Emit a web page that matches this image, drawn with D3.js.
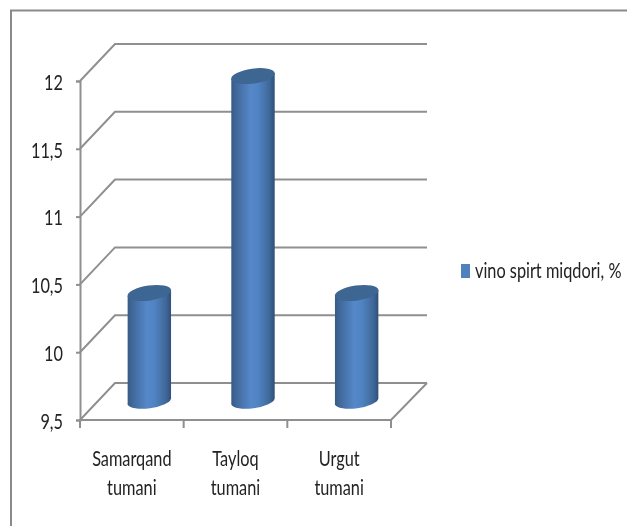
<!DOCTYPE html>
<html><head><meta charset="utf-8">
<script src="https://cdn.jsdelivr.net/npm/d3@7"></script>
<style>html,body{margin:0;padding:0;background:#fff}svg{display:block}
text{font-family:Lato,"Liberation Sans",sans-serif;fill:#222}</style>
</head><body><svg id="c" width="627" height="526"></svg>
<script>
const categories = [["Samarqand","tumani"],["Tayloq","tumani"],["Urgut","tumani"]];
const values = [10.3, 11.9, 10.3];
const seriesName = "vino spirt miqdori, %";
const yTicks = [9.5, 10, 10.5, 11, 11.5, 12];

const W = 627, H = 526;
const svg = d3.select("#c");
const x = d3.scaleBand().domain(d3.range(categories.length)).range([80, 391]);
const y = d3.scaleLinear().domain([9.5, 12]).range([420, 81]);
const depth = {dx: 35, dy: -37};
const grid = "#8f8f8f";
const fontSize = 20.5, squeeze = 0.795;

const defs = svg.append("defs");
const g = defs.append("linearGradient").attr("id","cyl");
[[0,"#375b84"],[.12,"#41699c"],[.45,"#5588c9"],[.62,"#5083c2"],[.88,"#3f6899"],[1,"#2f5077"]]
  .forEach(([o,c]) => g.append("stop").attr("offset",o).attr("stop-color",c));
defs.append("filter").attr("id","soft").attr("x","-5%").attr("y","-5%").attr("width","110%").attr("height","110%")
  .append("feGaussianBlur").attr("stdDeviation",0.5);

function condense(sel){
  sel.attr("font-size",fontSize).each(function(){
    const n = this.getComputedTextLength();
    d3.select(this).attr("textLength",n*squeeze).attr("lengthAdjust","spacingAndGlyphs");
  });
}

// outer frame
svg.append("path").attr("d",`M11,${H}V10.5H${W}`).attr("fill","none").attr("stroke","#8a8a8a").attr("stroke-width",2).attr("filter","url(#soft)");

const root = svg.append("g").attr("filter","url(#soft)");
// walls
const wall = root.append("g").attr("fill","none").attr("stroke",grid).attr("stroke-width",2);
yTicks.forEach(t => {
  wall.append("path").attr("d", d3.line()([
    [x.range()[0], y(t)],
    [x.range()[0]+depth.dx, y(t)+depth.dy],
    [x.range()[1]+depth.dx+1, y(t)+depth.dy]
  ]));
});
wall.append("path").attr("d", d3.line()([
  [x.range()[0], y(9.5)], [x.range()[1], y(9.5)], [x.range()[1]+depth.dx+1, y(9.5)+depth.dy]
]));

// axes
const yAxis = root.append("g").attr("transform",`translate(${x.range()[0]},0)`)
  .call(d3.axisLeft(y).tickValues(yTicks).tickSize(4).tickPadding(13).tickFormat(d => String(d).replace(".",",")));
yAxis.attr("font-family",null).attr("font-size",null);
yAxis.selectAll("path,line").attr("stroke",grid).attr("stroke-width",2);
yAxis.selectAll("text").attr("fill","#222").attr("dy","0.4em").call(condense);

const edges = d3.range(categories.length+1).map(i => x.range()[0] + i*x.step());
root.append("g").selectAll("line").data(edges).join("line")
  .attr("x1",d=>d).attr("x2",d=>d).attr("y1",y(9.5)).attr("y2",y(9.5)+8)
  .attr("stroke",grid).attr("stroke-width",2);

// cylinders
const rx = 22, ry = 7.5, rot = -8, hw = 21.7, tilt = 3;
const cx = i => x(i) + x.bandwidth()/2 + depth.dx/2;
const level = v => y(v) + depth.dy/2;
const bars = root.append("g").selectAll("g").data(values).join("g");
bars.append("path").attr("fill","url(#cyl)")
  .attr("d",(v,i)=>{
    const c = cx(i), t = level(v), b = level(9.5);
    return `M${c-hw},${t+tilt}L${c-hw},${b+tilt}A${rx},${ry} ${rot} 0 0 ${c+hw},${b-tilt}L${c+hw},${t-tilt}Z`;
  });
bars.append("ellipse").attr("fill","#3d6692")
  .attr("rx",rx).attr("ry",ry)
  .attr("transform",(v,i)=>`translate(${cx(i)},${level(v)}) rotate(${rot})`);

// category labels: one text per line
const labs = root.append("g");
categories.forEach((lines,i) => {
  labs.selectAll(null).data(lines).join("text")
    .attr("text-anchor","middle")
    .attr("x",x(i)+x.bandwidth()/2)
    .attr("y",(_,j)=>y(9.5)+46+j*29)
    .text(s=>s).call(condense);
});

// legend
const lg = root.append("g");
lg.append("rect").attr("x",461).attr("y",264).attr("width",9).attr("height",14).attr("fill","#4f81bd");
lg.append("text").attr("x",475).attr("y",278).text(seriesName).call(condense);
</script></body></html>
